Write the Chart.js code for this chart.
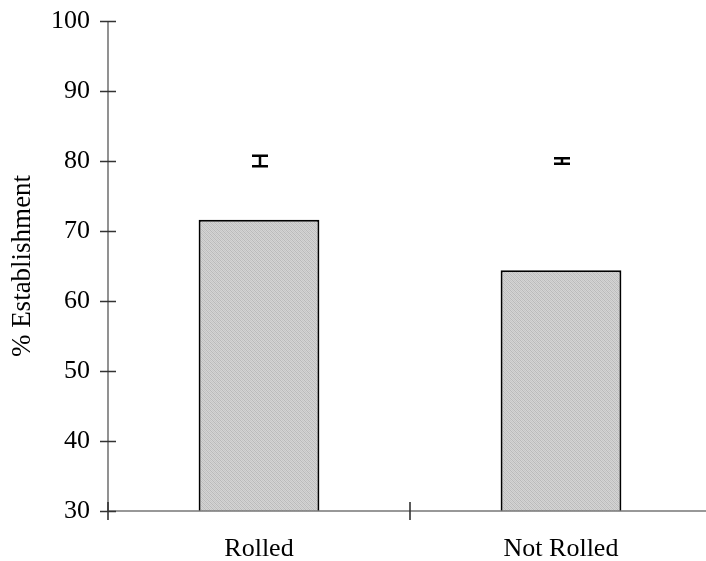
<!DOCTYPE html>
<html>
<head>
<meta charset="utf-8">
<script src="https://cdn.jsdelivr.net/npm/chart.js@4"></script>
<style>
  html, body { margin: 0; padding: 0; background: #fff; overflow: hidden; }
  #wrap { width: 712px; height: 561px; }
</style>
</head>
<body>
<div id="wrap"><canvas id="c" width="712" height="561"></canvas></div>
<script>
// Establishment by treatment
const categories = ['Rolled', 'Not Rolled'];
const establishment = [71.6, 64.4];
// Error bar markers: centre and half-length
const errCentre = [80, 80];
const errHalf = [0.75, 0.4];
// Y axis
const yMin = 30, yMax = 100, yStep = 10;

const FONT = 'Liberation Serif, "Times New Roman", serif';

// Fine grey stipple used for the bar fill
function makeStipple() {
  const p = document.createElement('canvas');
  p.width = 4; p.height = 4;
  const g = p.getContext('2d');
  g.fillStyle = '#d4d4d4';
  g.fillRect(0, 0, 4, 4);
  g.fillStyle = '#bababa';
  for (let i = 0; i < 4; i++) {
    g.fillRect(i, i, 1, 1);
  }
  g.fillStyle = '#c6c6c6';
  for (let i = 0; i < 4; i++) {
    g.fillRect((i + 2) % 4, i, 1, 1);
  }
  return g.createPattern(p, 'repeat');
}
const ctx0 = document.getElementById('c').getContext('2d');
const stipple = makeStipple();

// Axis lines, crossing tick marks and error bars
const decor = {
  id: 'decor',
  afterDatasetsDraw(chart) {
    const { ctx, chartArea: a, scales: { x, y } } = chart;
    ctx.save();
    ctx.strokeStyle = '#777';
    ctx.lineWidth = 1.6;
    ctx.beginPath();
    ctx.moveTo(a.left, a.top);
    ctx.lineTo(a.left, a.bottom);
    ctx.moveTo(a.left, a.bottom);
    ctx.lineTo(a.right, a.bottom);
    ctx.stroke();
    ctx.strokeStyle = '#333';
    ctx.beginPath();
    for (let v = yMin; v <= yMax; v += yStep) {
      const py = Math.round(y.getPixelForValue(v)) + 0.5;
      ctx.moveTo(a.left - 8, py);
      ctx.lineTo(a.left + 8, py);
    }
    for (let i = 0; i <= categories.length; i++) {
      const px = (i === 0) ? a.left : (x.getPixelForValue(i - 1) + x.getPixelForValue(i)) / 2;
      const xx = i === categories.length ? a.right : px;
      ctx.moveTo(xx, a.bottom - 9);
      ctx.lineTo(xx, a.bottom + 9);
    }
    ctx.stroke();

    ctx.strokeStyle = '#000';
    ctx.lineWidth = 2.5;
    const meta = chart.getDatasetMeta(0);
    meta.data.forEach((bar, i) => {
      const cx = bar.x + 1;
      const top = y.getPixelForValue(errCentre[i] + errHalf[i]);
      const bot = y.getPixelForValue(errCentre[i] - errHalf[i]);
      ctx.beginPath();
      ctx.moveTo(cx, top); ctx.lineTo(cx, bot);
      ctx.moveTo(cx - 8, top); ctx.lineTo(cx + 8, top);
      ctx.moveTo(cx - 8, bot); ctx.lineTo(cx + 8, bot);
      ctx.stroke();
    });
    ctx.restore();
  }
};

new Chart(ctx0, {
  type: 'bar',
  data: {
    labels: categories,
    datasets: [{
      data: establishment,
      backgroundColor: stipple,
      borderColor: '#000',
      borderWidth: 2,
      borderSkipped: false,
      barPercentage: 0.4,
      categoryPercentage: 1.0
    }]
  },
  options: {
    responsive: false,
    animation: false,
    devicePixelRatio: 1,
    layout: { padding: { top: 21, right: 0, left: 0, bottom: 0 } },
    plugins: { legend: { display: false }, tooltip: { enabled: false } },
    scales: {
      x: {
        grid: { display: false, drawTicks: false },
        border: { display: false },
        ticks: { color: '#000', font: { family: FONT, size: 26 }, padding: 23, maxRotation: 0 },
        afterFit(s) { s.height = 50; s.paddingLeft = 0; s.paddingRight = 0; }
      },
      y: {
        min: yMin, max: yMax,
        grid: { display: false, drawTicks: false },
        border: { display: false },
        ticks: { stepSize: yStep, color: '#000', font: { family: FONT, size: 26 }, padding: 18 },
        title: { display: true, text: '% Establishment', color: '#000', font: { family: FONT, size: 27 }, padding: { top: 7, bottom: 0 } },
        afterFit(s) { s.width = 108; s.paddingTop = 0; s.paddingBottom = 0; }
      }
    }
  },
  plugins: [decor]
});
</script>
</body>
</html>
